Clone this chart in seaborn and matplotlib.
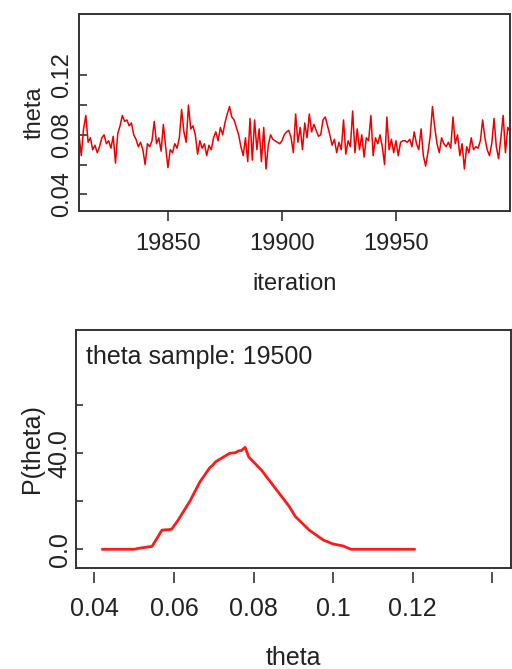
import matplotlib
matplotlib.use("Agg")
import matplotlib.pyplot as plt
import numpy as np
import pandas as pd
import seaborn as sns

# trace of the last iterations
first_iteration = 19811
theta_trace = [
    0.080, 0.066, 0.084, 0.093, 0.075, 0.078, 0.070, 0.073, 0.068, 0.072,
    0.078, 0.080, 0.074, 0.076, 0.071, 0.079, 0.061, 0.081, 0.086, 0.093,
    0.089, 0.090, 0.086, 0.088, 0.080, 0.077, 0.072, 0.075, 0.070, 0.060,
    0.074, 0.072, 0.076, 0.089, 0.074, 0.078, 0.069, 0.087, 0.072, 0.058,
    0.070, 0.068, 0.074, 0.071, 0.078, 0.097, 0.082, 0.075, 0.100, 0.084,
    0.086, 0.080, 0.067, 0.076, 0.071, 0.074, 0.066, 0.073, 0.070, 0.078,
    0.082, 0.076, 0.085, 0.080, 0.088, 0.094, 0.099, 0.092, 0.090, 0.085,
    0.080, 0.072, 0.066, 0.078, 0.062, 0.091, 0.063, 0.090, 0.070, 0.084,
    0.062, 0.085, 0.057, 0.073, 0.080, 0.077, 0.076, 0.075, 0.074, 0.076,
    0.080, 0.082, 0.083, 0.078, 0.068, 0.094, 0.075, 0.085, 0.070, 0.088,
    0.078, 0.094, 0.082, 0.087, 0.083, 0.079, 0.080, 0.090, 0.092, 0.086,
    0.080, 0.073, 0.077, 0.068, 0.075, 0.070, 0.090, 0.067, 0.076, 0.072,
    0.096, 0.068, 0.084, 0.070, 0.080, 0.065, 0.078, 0.076, 0.093, 0.066,
    0.078, 0.074, 0.080, 0.072, 0.060, 0.092, 0.070, 0.077, 0.068, 0.076,
    0.066, 0.075, 0.076, 0.076, 0.075, 0.077, 0.072, 0.082, 0.074, 0.070,
    0.084, 0.066, 0.059, 0.068, 0.079, 0.099, 0.085, 0.074, 0.068, 0.078,
    0.074, 0.072, 0.075, 0.071, 0.092, 0.074, 0.080, 0.066, 0.074, 0.057,
    0.072, 0.068, 0.078, 0.070, 0.072, 0.071, 0.076, 0.090, 0.078, 0.070,
    0.066, 0.074, 0.091, 0.072, 0.064, 0.078, 0.093, 0.068, 0.085, 0.082,
]
iterations = list(range(first_iteration, first_iteration + len(theta_trace)))

# kernel density of theta
density_theta = [
    0.042, 0.050, 0.0515, 0.0545, 0.057, 0.0594, 0.061, 0.064, 0.0665,
    0.069, 0.0697, 0.0705, 0.072, 0.074, 0.0755, 0.0762, 0.077, 0.0779,
    0.0788, 0.082, 0.0855, 0.089, 0.0905, 0.094, 0.0975, 0.100, 0.1025,
    0.1045, 0.1205,
]
density_p = [
    0.0, 0.0, 0.5, 1.2, 8.0, 8.3, 12.0, 20.0, 28.0,
    34.0, 35.0, 36.5, 38.0, 40.0, 40.3, 41.0, 41.2, 42.5,
    38.5, 33.0, 25.4, 17.8, 13.7, 8.0, 3.9, 2.2, 1.4,
    0.0, 0.0,
]

trace_yticks = [0.04, 0.06, 0.08, 0.10, 0.12]
trace_yticklabels = ["0.04", "", "0.08", "", "0.12"]
trace_xticks = [19850, 19900, 19950]
dens_xticks = [0.04, 0.06, 0.08, 0.10, 0.12, 0.14]
dens_xticklabels = ["0.04", "0.06", "0.08", "0.1", "0.12", ""]
dens_yticks = [0, 20, 40, 60]
dens_yticklabels = ["0.0", "", "40.0", ""]

sns.set_theme(style="white")
plt.rcParams["font.family"] = ["Liberation Sans", "DejaVu Sans"]

FS1 = 17
FS2 = 18
TXT = "#222222"
FRAME = "#333333"

fig = plt.figure(figsize=(5.12, 6.69), dpi=100)
ax1 = fig.add_axes([79 / 512, 1 - 211 / 669, 431 / 512, 197 / 669])
ax2 = fig.add_axes([76 / 512, 1 - 568 / 669, 435 / 512, 238 / 669])

trace_df = pd.DataFrame({"iteration": iterations, "theta": theta_trace})
sns.lineplot(data=trace_df, x="iteration", y="theta", ax=ax1,
             color="#ee0000", linewidth=1.1, estimator=None)
ax1.set_xlim(19811, 20000)
ax1.set_ylim(0.0288, 0.1612)
ax1.set_yticks(trace_yticks)
ax1.set_yticklabels(trace_yticklabels, rotation=90, va="center")
ax1.set_xticks(trace_xticks)
ax1.set_xticklabels([str(t) for t in trace_xticks])
ax1.tick_params(axis="y", direction="in", length=5.5, width=1.2, color=FRAME,
                labelsize=FS1, labelcolor=TXT, pad=4, left=True)
ax1.tick_params(axis="x", direction="out", length=7, width=1.2, color=FRAME,
                labelsize=FS1, labelcolor=TXT, pad=9, bottom=True)
ax1.set_xlabel("iteration", fontsize=FS1, color=TXT, labelpad=13)
ax1.set_ylabel("theta", fontsize=FS1, color=TXT, labelpad=4)

dens_df = pd.DataFrame({"theta": density_theta, "P(theta)": density_p})
sns.lineplot(data=dens_df, x="theta", y="P(theta)", ax=ax2,
             color="#ff1a1a", linewidth=2.0, estimator=None)
ax2.set_xlim(0.0354, 0.1447)
ax2.set_ylim(-7.8, 91.4)
ax2.set_yticks(dens_yticks)
ax2.set_yticklabels(dens_yticklabels, rotation=90, va="center")
ax2.tick_params(axis="y", direction="in", length=5, width=1.2, color=FRAME,
                labelsize=FS2, labelcolor=TXT, pad=3, left=True)
ax2.tick_params(axis="x", bottom=False, labelbottom=False)
ax2.set_xlabel("")
ax2.set_ylabel("P(theta)", fontsize=FS2, color=TXT, labelpad=3)

# x axis drawn a little below the frame, as in the reference
sec = ax2.secondary_xaxis(-4 / 238)
sec.set_xticks(dens_xticks)
sec.set_xticklabels(dens_xticklabels)
sec.spines["bottom"].set_visible(False)
sec.tick_params(axis="x", direction="out", length=8, width=1.2, color=FRAME,
                labelsize=FS2, labelcolor=TXT, pad=10)
sec.set_xlabel("theta", fontsize=FS2, color=TXT, labelpad=18)

ax2.text(0.023, 0.887, "theta sample: 19500", transform=ax2.transAxes,
         fontsize=FS2, color=TXT, va="center", ha="left")

for ax in (ax1, ax2):
    for sp in ax.spines.values():
        sp.set_color(FRAME)
        sp.set_linewidth(1.4)

fig.savefig("out.png", dpi=100)
